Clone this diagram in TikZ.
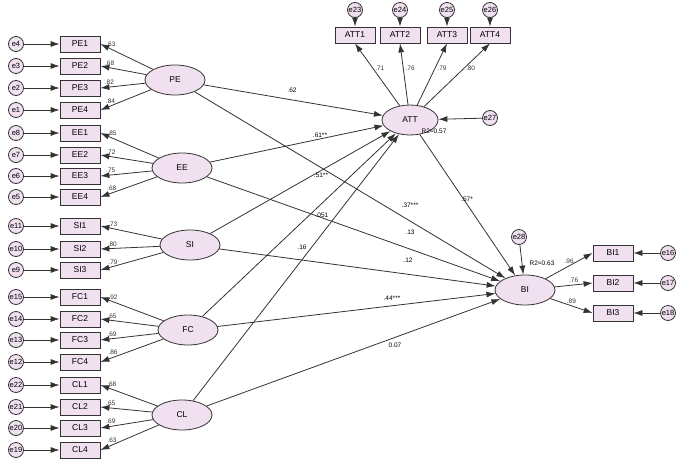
\documentclass[tikz,border=0pt]{standalone}
\usepackage{fontspec}
\setmainfont{Liberation Sans}
\usetikzlibrary{shapes.geometric,arrows.meta}
\begin{document}
\begin{tikzpicture}[x=1pt,y=-1pt,
 ind/.style={draw=black!80,thick,fill=violet!12,minimum width=40pt,minimum height=16pt,inner sep=0pt,font=\fontsize{8.5}{9}\selectfont},
 lat/.style={draw=black!80,thick,ellipse,fill=violet!12,minimum width=60pt,minimum height=30pt,font=\fontsize{8.5}{9}\selectfont},
 err/.style={draw=black!80,thick,circle,fill=violet!12,minimum size=15pt,inner sep=0pt,font=\fontsize{7.5}{8}\selectfont},
 arr/.style={-{Latex[length=9pt,width=6pt]},thick,black!80},
 lab/.style={font=\fontsize{6.5}{7}\selectfont,inner sep=1pt}]
\useasboundingbox (0,0) rectangle (685,471);
% left indicators
\foreach \n/\e/\y in {PE1/e4/44,PE2/e3/66,PE3/e2/88,PE4/e1/110,EE1/e8/133,EE2/e7/155,EE3/e6/176,EE4/e5/197,SI1/e11/226,SI2/e10/249,SI3/e9/270,FC1/e15/297,FC2/e14/319,FC3/e13/340,FC4/e12/362,CL1/e22/385,CL2/e21/407,CL3/e20/428,CL4/e19/450}{
 \node[ind] (\n) at (80,\y) {\n};
 \node[err] (\e) at (16,\y) {\e};
 \draw[arr] (\e) -- (\n);
}
\node[lat] (PE) at (175,80) {PE};
\node[lat] (EE) at (182,168) {EE};
\node[lat] (SI) at (190,245) {SI};
\node[lat] (FC) at (188,330) {FC};
\node[lat] (CL) at (182,415) {CL};
\node[lat,minimum width=56pt] (ATT) at (410,120) {ATT};
\node[lat] (BI) at (525,290) {BI};
\foreach \l/\n/\v in {PE/PE1/.63,PE/PE2/.68,PE/PE3/.82,PE/PE4/.84,EE/EE1/.85,EE/EE2/.72,EE/EE3/.75,EE/EE4/.68,SI/SI1/.73,SI/SI2/.80,SI/SI3/.79,FC/FC1/.92,FC/FC2/.65,FC/FC3/.69,FC/FC4/.86,CL/CL1/.68,CL/CL2/.65,CL/CL3/.69,CL/CL4/.63}{
 \draw[arr] (\l) -- (\n.east) node[lab,pos=0.8,above=1pt] {\v};
}
% ATT indicators
\foreach \n/\e/\x/\v in {ATT1/e23/355/.71,ATT2/e24/400/.76,ATT3/e25/447/.79,ATT4/e26/490/.80}{
 \node[ind] (\n) at (\x,35) {\n};
 \node[err] (\e) at (\x,10) {\e};
 \draw[arr] (\e) -- (\n);
 \draw[arr] (ATT) -- (\n.south) node[lab,pos=0.6,right=1pt] {\v};
}
\node[err] (e27) at (490,118) {e27};
\draw[arr] (e27) -- (ATT);
\node[lab] (r1) at (434,131) {R2=0.57};
% BI indicators
\foreach \n/\e/\y/\v in {BI1/e16/253/.96,BI2/e17/283/.76,BI3/e18/313/.89}{
 \node[ind] (\n) at (613,\y) {\n};
 \node[err] (\e) at (668,\y) {\e};
 \draw[arr] (\e) -- (\n);
 \draw[arr] (BI) -- (\n.west) node[lab,pos=0.5,above=1pt] {\v};
}
\node[err] (e28) at (519,237) {e28};
\draw[arr] (e28) -- (BI);
\node[lab] (r2) at (542,263) {R2=0.63};
% structural paths
\foreach \s in {PE,EE,SI,FC,CL}{
 \draw[arr] (\s) -- (ATT);
 \draw[arr] (\s) -- (BI);
}
\draw[arr] (ATT) -- (BI);
\node[lab] (l1) at (292,90) {.62};
\node[lab] (l2) at (320,135) {.61**};
\node[lab] (l3) at (321,175) {.51**};
\node[lab] (l4) at (322,215) {.051};
\node[lab] (l5) at (302,247) {.16};
\node[lab] (l6) at (410,205) {.37***};
\node[lab] (l7) at (410,232) {.13};
\node[lab] (l8) at (408,260) {.12};
\node[lab] (l9) at (392,298) {.44***};
\node[lab] (l10) at (395,345) {0.07};
\node[lab] (l11) at (467,199) {.57*};
\end{tikzpicture}
\end{document}
